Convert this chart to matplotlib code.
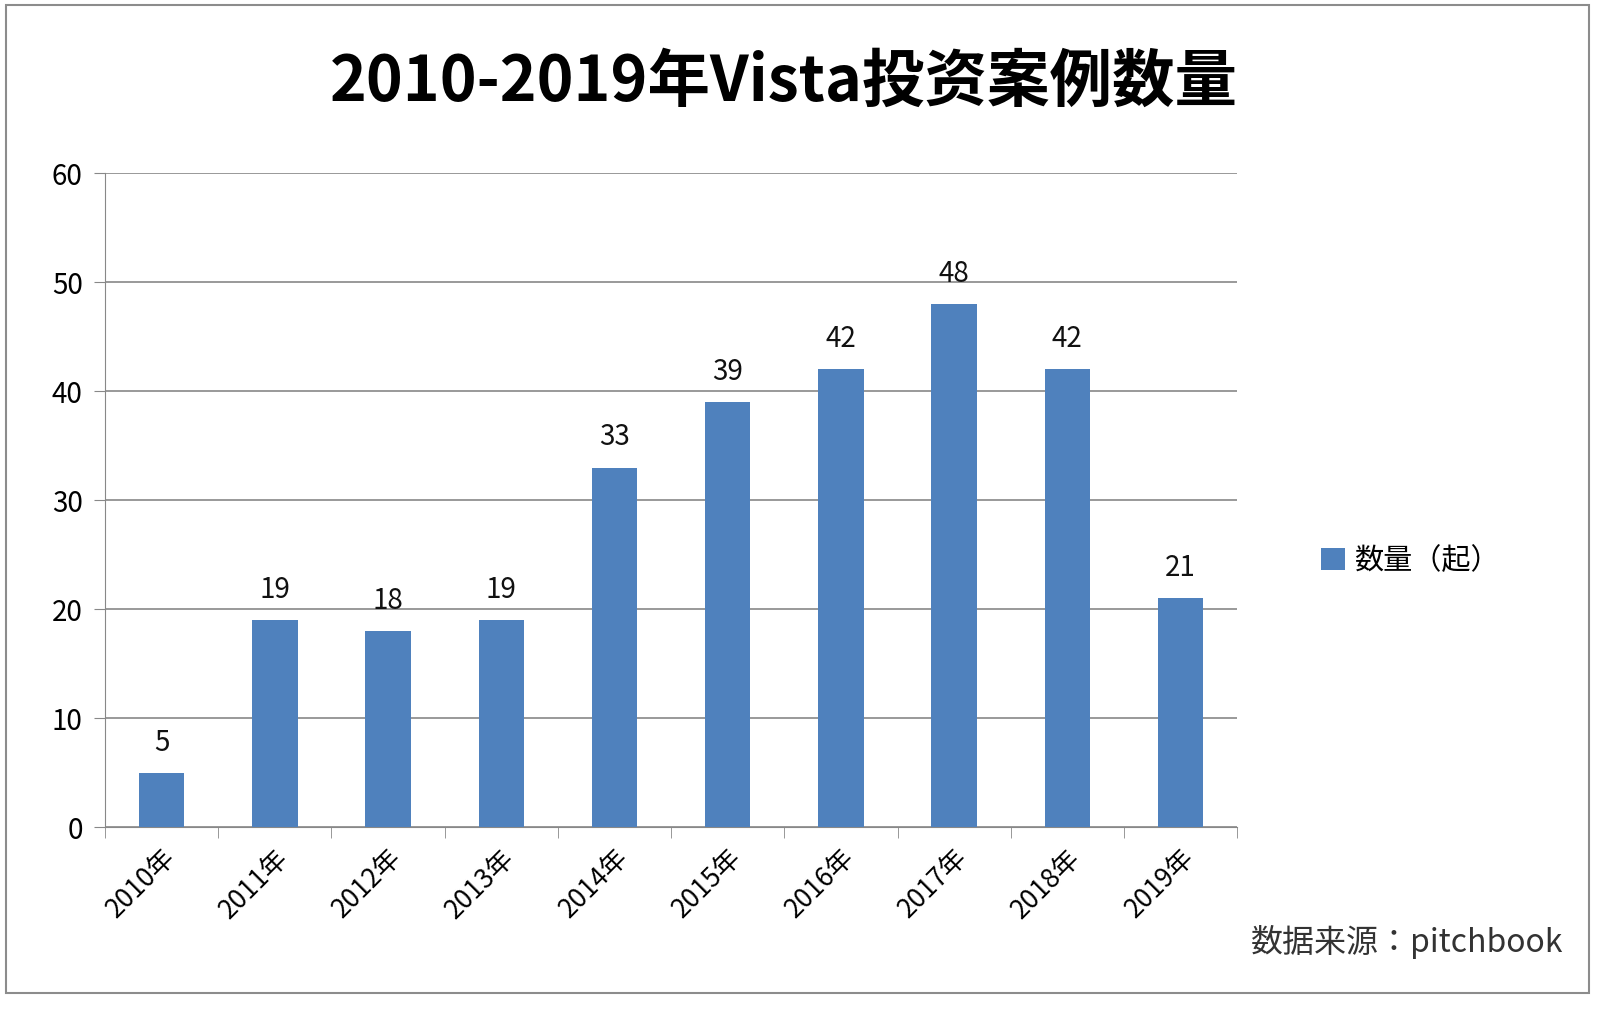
import matplotlib.pyplot as plt
from matplotlib import font_manager
import numpy as np

# pick an installed CJK font
cjk = [f.name for f in font_manager.fontManager.ttflist if 'CJK' in f.name]
cjk_pref = [n for n in ['Noto Sans CJK SC', 'Noto Sans CJK JP', 'Noto Sans CJK TC'] if n in cjk] or cjk
plt.rcParams['font.family'] = 'sans-serif'
plt.rcParams['font.sans-serif'] = cjk_pref[:1] + ['DejaVu Sans']

years = ['2010年', '2011年', '2012年', '2013年', '2014年', '2015年', '2016年', '2017年', '2018年', '2019年']
counts = [5, 19, 18, 19, 33, 39, 42, 48, 42, 21]

fig = plt.figure(figsize=(15.99, 10.24), dpi=100)
# chart border
fig.patches.append(plt.Rectangle((0.004, 0.03), 0.99, 0.965, transform=fig.transFigure,
                                 fill=False, edgecolor='#8c8c8c', linewidth=1.5))

ax = fig.add_axes([0.0657, 0.192, 0.708, 0.639])
x = np.arange(len(years))
bars = ax.bar(x, counts, width=0.4, color='#4F81BD', zorder=3)
for xi, v in zip(x, counts):
    ax.text(xi, v + 1.4, str(v), ha='center', va='bottom', fontsize=20, color='#111111')

ax.set_xlim(-0.5, len(years) - 0.5)
ax.set_ylim(0, 60)
ax.set_yticks(range(0, 61, 10))
ax.tick_params(axis='y', labelsize=20, length=8, color='#888888', pad=8)
ax.yaxis.grid(True, color='#888888', linewidth=1.2, zorder=0)
ax.set_xticks(x)
ax.set_xticklabels(years, rotation=45, ha='right', rotation_mode='anchor', fontsize=19)
ax.set_xticks(np.arange(-0.5, len(years)), minor=True)
ax.tick_params(axis='x', which='major', length=0, pad=12)
ax.tick_params(axis='x', which='minor', length=8, color='#888888')
for s in ['top', 'right']:
    ax.spines[s].set_visible(False)
ax.spines['left'].set_color('#888888')
ax.spines['bottom'].set_color('#888888')

fig.text(0.49, 0.92, '2010-2019年Vista投资案例数量', ha='center', va='center',
         fontsize=45, fontweight='bold')
fig.legend(handles=[bars], labels=['数量（起）'], loc='center left',
           bbox_to_anchor=(0.81, 0.452), frameon=False, fontsize=21,
           handlelength=0.8, handleheight=0.8, handletextpad=0.3)
fig.text(0.978, 0.08, '数据来源：pitchbook', ha='right', va='center', fontsize=23, color='#333333')

fig.savefig('out.png', dpi=100)
